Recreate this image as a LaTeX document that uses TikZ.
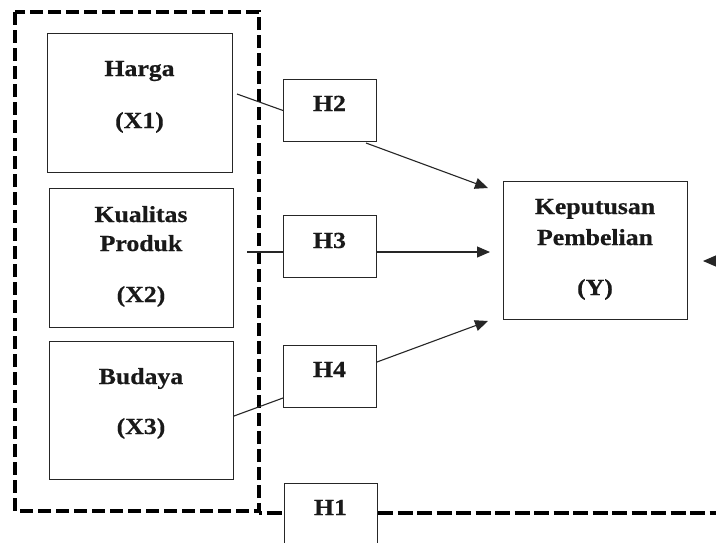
\documentclass[tikz,border=0pt]{standalone}
\usepackage{fontspec}
\setmainfont{Liberation Serif}[FakeStretch=1.12, BoldFeatures={FakeBold=0.5}]
\usetikzlibrary{arrows.meta,calc}
\tikzset{
  box/.style={draw=black!85, line width=1pt, inner sep=0pt, anchor=north west},
  txt/.style={anchor=base, inner sep=0pt, text=black!90, font=\fontsize{23}{27}\selectfont\bfseries},
  conn/.style={draw=black!85, line width=1.1pt},
  arr/.style={conn, -{Triangle[length=13pt,width=11pt]}},
  bigdash/.style={line width=4pt, dash pattern=on 13pt off 5pt},
  middash/.style={line width=4pt, dash pattern=on 15pt off 4.5pt},
}
\begin{document}
\begin{tikzpicture}[x=1pt,y=-1pt]
\useasboundingbox (0,0) rectangle (716,542);
\clip (0,0) rectangle (716,542);
\fill[white] (0,0) rectangle (716,542);
% outer dashed group
\draw[bigdash] (15,12) rectangle (259,511);
\coordinate (dbr) at (259,513);
% variable boxes
\node[box, minimum width=185pt, minimum height=139pt] (harga) at (47,33) {};
\node[box, minimum width=184pt, minimum height=139pt] (kual) at (49,188) {};
\node[box, minimum width=184pt, minimum height=138pt] (bud) at (49,341) {};
\node[box, minimum width=184pt, minimum height=138pt] (ybox) at (503,181) {};
% hypothesis boxes
\node[box, minimum width=93pt, minimum height=62pt] (h2) at (283,79) {};
\node[box, minimum width=93pt, minimum height=62pt] (h3) at (283,215) {};
\node[box, minimum width=93pt, minimum height=62pt] (h4) at (283,345) {};
\node[box, minimum width=93pt, minimum height=62pt] (h1) at (284,483) {};
% texts
\node[txt] (tharga) at (139.5,76) {Harga};
\node[txt] (tx1) at (139.5,128) {(X1)};
\node[txt] (tkual) at (141,222) {Kualitas};
\node[txt] (tprod) at (141,251) {Produk};
\node[txt] (tx2) at (141,302) {(X2)};
\node[txt] (tbud) at (141,384) {Budaya};
\node[txt] (tx3) at (141,434) {(X3)};
\node[txt] (tkep) at (595,214) {Keputusan};
\node[txt] (tpem) at (595,245) {Pembelian};
\node[txt] (ty) at (595,295) {(Y)};
\node[txt] (th2) at (329.5,111) {H2};
\node[txt] (th3) at (329.5,248) {H3};
\node[txt] (th4) at (329.5,377) {H4};
\node[txt] (th1) at (330.5,515) {H1};
% connectors
\coordinate (c1) at (237,94);
\draw[conn] (c1) -- (h2.west);
\draw[arr] ($(h2.south east)+(-11,1)$) -- ($(ybox.north west)+(-15,7)$);
\coordinate (c3) at (247,252);
\draw[conn] (c3) -- (c3 -| h3.west);
\draw[arr] (c3 -| h3.east) -- ($(c3 -| ybox.west)+(-13,0)$);
\draw[conn] ($(bud.north east)+(0,75)$) -- ($(h4.north west)+(0,53)$);
\draw[arr] ($(h4.north east)+(0,17)$) -- ($(ybox.south west)+(-15,1)$);
\coordinate (rin) at (740,261);
\draw[arr] (rin) -- ($(ybox.east |- rin)+(15,0)$);
% H1 dashed path
\draw[middash, dash phase=12pt] (dbr) -- (dbr -| h1.west);
\coordinate (rout) at (740,513);
\draw[middash] (h1.east |- rout) -- (rout);
\end{tikzpicture}
\end{document}
